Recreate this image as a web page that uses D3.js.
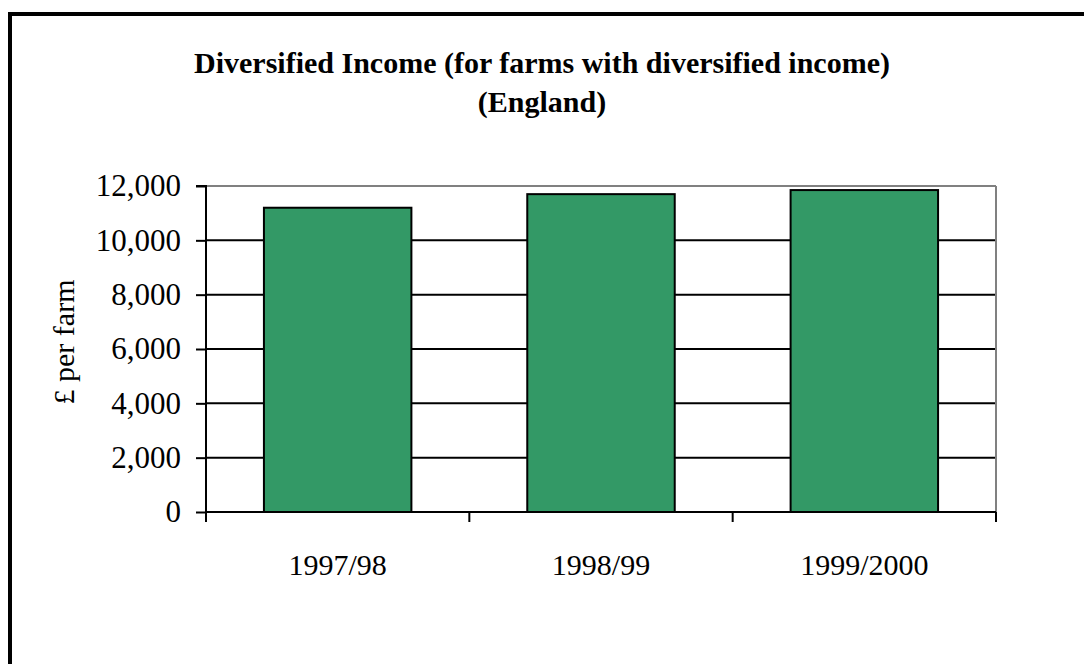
<!DOCTYPE html>
<html><head><meta charset="utf-8">
<script src="https://cdn.jsdelivr.net/npm/d3@7"></script>
<style>body{margin:0;background:#fff;}svg{display:block;}</style>
</head><body>
<script>
const categories = ["1997/98", "1998/99", "1999/2000"];
const values = [11200, 11700, 11850];
const yTicks = [0, 2000, 4000, 6000, 8000, 10000, 12000];
const titleLines = ["Diversified Income (for farms with diversified income)", "(England)"];
const yLabel = "£ per farm";

const W = 1084, H = 664;
const svg = d3.select("body").append("svg").attr("width", W).attr("height", H);
const font = "'Liberation Serif','Times New Roman',serif";

// outer frame
svg.append("rect").attr("x", 10).attr("y", 14).attr("width", 1200).attr("height", 800)
  .attr("fill", "none").attr("stroke", "#000").attr("stroke-width", 4);

const m = {left: 206, right: 996, top: 186, bottom: 512};
const x = d3.scaleBand().domain(categories).range([m.left, m.right]).paddingInner(0.44).paddingOuter(0.22);
const y = d3.scaleLinear().domain([0, 12000]).range([m.bottom, m.top]);

// gridlines
svg.append("g").selectAll("line").data(yTicks.filter(d => d > 0 && d < 12000)).join("line")
  .attr("x1", m.left).attr("x2", m.right).attr("y1", d => y(d)).attr("y2", d => y(d))
  .attr("stroke", "#000").attr("stroke-width", 2);
// top & right border gray
svg.append("line").attr("x1", m.left).attr("x2", m.right).attr("y1", y(12000)).attr("y2", y(12000))
  .attr("stroke", "#808080").attr("stroke-width", 2);
svg.append("line").attr("x1", m.right).attr("x2", m.right).attr("y1", m.top).attr("y2", m.bottom)
  .attr("stroke", "#808080").attr("stroke-width", 2);

// bars
svg.append("g").selectAll("rect").data(values).join("rect")
  .attr("x", (d, i) => x(categories[i])).attr("width", x.bandwidth())
  .attr("y", d => y(d)).attr("height", d => y(0) - y(d))
  .attr("fill", "#339966").attr("stroke", "#000").attr("stroke-width", 2);

// y axis
const yAxis = svg.append("g").attr("transform", `translate(${m.left},0)`)
  .call(d3.axisLeft(y).tickValues(yTicks).tickSize(10).tickPadding(15).tickFormat(d3.format(",")));
yAxis.select(".domain").attr("stroke", "#000").attr("stroke-width", 2).attr("d", `M-10,${m.top}H0V${m.bottom}`);
yAxis.selectAll(".tick line").attr("stroke", "#000").attr("stroke-width", 2);
yAxis.selectAll("text").attr("font-family", font).attr("font-size", 31).attr("fill", "#000");

// x axis
const xEdge = d3.scaleLinear().domain([0, categories.length]).range([m.left, m.right]);
const xg = svg.append("g");
xg.append("line").attr("x1", m.left).attr("x2", m.right).attr("y1", m.bottom).attr("y2", m.bottom)
  .attr("stroke", "#000").attr("stroke-width", 2);
xg.selectAll("line.t").data(d3.range(categories.length + 1)).join("line").attr("class", "t")
  .attr("x1", d => xEdge(d)).attr("x2", d => xEdge(d)).attr("y1", m.bottom).attr("y2", m.bottom + 10)
  .attr("stroke", "#000").attr("stroke-width", 2);
xg.selectAll("text").data(categories).join("text")
  .attr("x", d => x(d) + x.bandwidth() / 2).attr("y", 575)
  .attr("text-anchor", "middle").attr("font-family", font).attr("font-size", 30).text(d => d);

// y label
svg.append("text").attr("transform", "translate(74,342) rotate(-90)")
  .attr("text-anchor", "middle").attr("font-family", font).attr("font-size", 30).text(yLabel);

// title
svg.append("g").selectAll("text").data(titleLines).join("text")
  .attr("x", 542).attr("y", (d, i) => 73 + i * 39)
  .attr("text-anchor", "middle").attr("font-family", font).attr("font-weight", "bold")
  .attr("font-size", 30).text(d => d);
</script>
</body></html>
